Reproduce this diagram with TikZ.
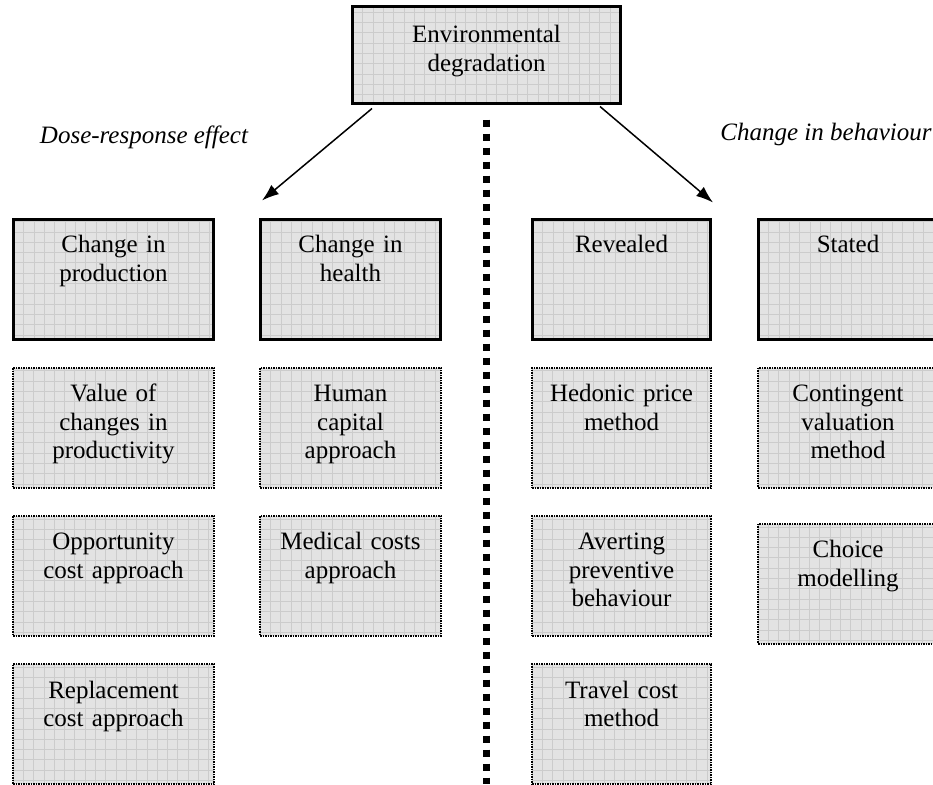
\documentclass[tikz,border=0pt]{standalone}
\usepackage{fontspec}
\setmainfont{Liberation Serif}
\usetikzlibrary{arrows.meta,positioning}

\begin{document}
\begin{tikzpicture}[x=1pt, y=-1pt, >={Latex[length=17pt,width=12pt]},
      font=\fontsize{25}{28.5}\selectfont,
      gridfill/.style={fill=gray!22, path picture={
          \draw[solid, gray!40, line width=0.7pt] (path picture bounding box.south west)
            grid[step=10.3pt] (path picture bounding box.north east);}},
      hbox/.style={gridfill, draw, line width=3pt, align=center, inner sep=0pt,
                   text width=#1, text height=33.5pt, text depth=86.5pt},
      mbox/.style={gridfill, draw, line width=2.2pt, dash pattern=on 1.5pt off 1pt,
                   align=center, inner sep=0pt, text width=#1,
                   text height=34pt, text depth=86pt},
      side/.style={font=\fontsize{25}{28.5}\selectfont\itshape, anchor=base},
      arr/.style={->, line width=1.5pt},
      sep/.style={line width=7pt, dash pattern=on 7pt off 7pt}
    ]
    \useasboundingbox (0,0) rectangle (933,784);

    \node[hbox=268pt, text height=36pt, text depth=60pt, anchor=north] (env)
      at (486.5,5.5) {Environmental\\degradation};

    \node[side] (dose) at (144,143) {Dose-response effect};
    \node[side] (behav) at (826,140) {Change in behaviour};

    \node[hbox=200pt, anchor=north] (prod) at (113.5,217.5) {Change in\\production};
    \node[hbox=180pt, anchor=north] (health) at (350.5,217.5) {Change in\\health};
    \node[hbox=178pt, anchor=north] (rev) at (621.5,217.5) {Revealed};
    \node[hbox=179pt, anchor=north] (stated) at (848,217.5) {Stated};

    \node[mbox=201pt, below=26pt of prod] (value) {Value of\\changes in\\productivity};
    \node[mbox=201pt, below=26pt of value] (oppcost) {Opportunity\\cost approach};
    \node[mbox=201pt, below=26pt of oppcost] (replace) {Replacement\\cost approach};

    \node[mbox=181pt, below=26pt of health] (humcap) {Human\\capital\\approach};
    \node[mbox=181pt, below=26pt of humcap] (medcost) {Medical costs\\approach};

    \node[mbox=179pt, below=26pt of rev] (hedonic) {Hedonic price\\method};
    \node[mbox=179pt, below=26pt of hedonic] (avert) {Averting\\preventive\\behaviour};
    \node[mbox=179pt, below=26pt of avert] (travel) {Travel cost\\method};

    \node[mbox=180pt, below=26pt of stated] (contval) {Contingent\\valuation\\method};
    \node[mbox=180pt, below=34pt of contval] (choice) {Choice\\modelling};

    \draw[arr] ([xshift=21pt,yshift=-4pt]env.south west)
      -- ([xshift=3pt,yshift=17pt]health.north west);
    \draw[arr] ([xshift=-22pt,yshift=-2pt]env.south east)
      -- ([xshift=1pt,yshift=15pt]rev.north east);

    \coordinate (sepend) at (486.5,784);
    \draw[sep] ([yshift=-15pt]env.south) -- (sepend);
  \end{tikzpicture}
\end{document}
